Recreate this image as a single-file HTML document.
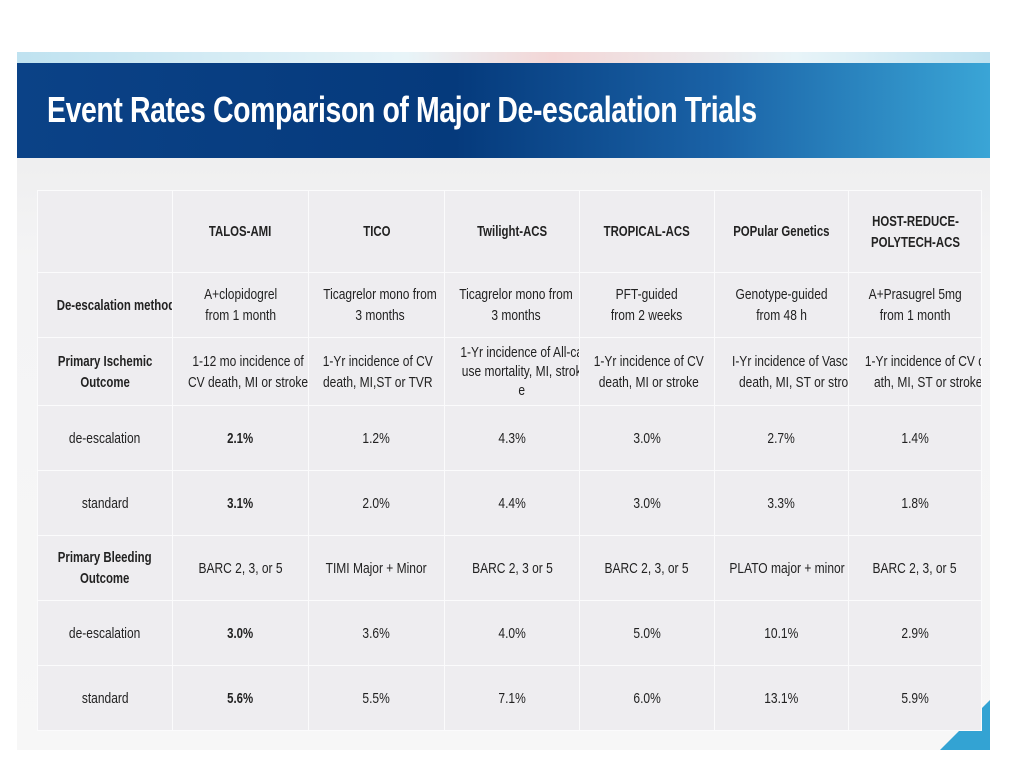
<!DOCTYPE html>
<html><head><meta charset="utf-8"><style>
html,body{margin:0;padding:0;width:1024px;height:768px;background:#fff;overflow:hidden;font-family:"Liberation Sans",sans-serif;}
#slide{position:absolute;left:17px;top:52px;width:973px;height:698px;background:linear-gradient(180deg,#e9e9ea 0%,#f4f4f5 30%,#f7f7f7 100%);}
#topline{position:absolute;left:17px;top:52px;width:973px;height:11px;background:linear-gradient(90deg,#bfe2f0,#e8f4f8 40%,#f3d6d6 55%,#e8f4f8 80%,#bfe2f0);}
#header{position:absolute;left:17px;top:63px;width:973px;height:95px;background:linear-gradient(90deg,#0b4287 0%,#053a7c 45%,#1a62a6 72%,#3aa5d6 100%);}
#title{position:absolute;left:30px;top:26px;color:#fff;font-size:36px;font-weight:bold;letter-spacing:-0.5px;white-space:nowrap;transform:scaleX(0.79);transform-origin:0 0;}
#corner{position:absolute;left:940px;top:700px;width:50px;height:50px;background:#33a3d3;clip-path:polygon(100% 0,100% 100%,0 100%);}
table{position:absolute;left:37px;top:190px;width:944px;border-collapse:collapse;table-layout:fixed;}
td{background:#eeedf0;border:1.5px solid #fbfbfc;text-align:center;vertical-align:middle;font-size:15px;color:#222;line-height:21px;padding:0;overflow:hidden;white-space:nowrap;}
td span{display:inline-block;transform:scaleX(0.8);transform-origin:50% 50%;}
td.b{font-weight:bold;}
td.b span{transform:scaleX(0.76);}
</style></head><body>
<div id="slide"></div>
<div id="topline"></div>
<div id="header"><div id="title">Event Rates Comparison of Major De-escalation Trials</div></div>
<div id="corner"></div>
<table>
<colgroup><col style="width:135px"><col style="width:136px"><col style="width:136px"><col style="width:135px"><col style="width:135px"><col style="width:134px"><col style="width:133px"></colgroup>
<tr style="height:82px"><td></td><td class="b"><span>TALOS-AMI</span></td><td class="b"><span>TICO</span></td><td class="b"><span>Twilight-ACS</span></td><td class="b"><span>TROPICAL-ACS</span></td><td class="b"><span>POPular Genetics</span></td><td class="b"><span>HOST-REDUCE-<br>POLYTECH-ACS</span></td></tr>
<tr style="height:65px"><td class="b"><span>De-escalation method</span></td><td><span>A+clopidogrel<br>from 1 month</span></td><td><span>Ticagrelor mono from<br>3 months</span></td><td><span>Ticagrelor mono from<br>3 months</span></td><td><span>PFT-guided<br>from 2 weeks</span></td><td><span>Genotype-guided<br>from 48 h</span></td><td><span>A+Prasugrel 5mg<br>from 1 month</span></td></tr>
<tr style="height:68px"><td class="b"><span>Primary Ischemic<br>Outcome</span></td><td><span>1-12 mo incidence of<br>CV death, MI or stroke</span></td><td><span>1-Yr incidence of CV<br>death, MI,ST or TVR</span></td><td style="line-height:19px"><span>1-Yr incidence of All-ca<br>use mortality, MI, strok<br>e</span></td><td><span>1-Yr incidence of CV<br>death, MI or stroke</span></td><td><span>I-Yr incidence of Vascular<br>death, MI, ST or stroke</span></td><td><span>1-Yr incidence of CV de<br>ath, MI, ST or stroke</span></td></tr>
<tr style="height:65px"><td><span>de-escalation</span></td><td class="b"><span>2.1%</span></td><td><span>1.2%</span></td><td><span>4.3%</span></td><td><span>3.0%</span></td><td><span>2.7%</span></td><td><span>1.4%</span></td></tr>
<tr style="height:65px"><td><span>standard</span></td><td class="b"><span>3.1%</span></td><td><span>2.0%</span></td><td><span>4.4%</span></td><td><span>3.0%</span></td><td><span>3.3%</span></td><td><span>1.8%</span></td></tr>
<tr style="height:65px"><td class="b"><span>Primary Bleeding<br>Outcome</span></td><td><span>BARC 2, 3, or 5</span></td><td><span>TIMI Major + Minor</span></td><td><span>BARC 2, 3 or 5</span></td><td><span>BARC 2, 3, or 5</span></td><td><span>PLATO major + minor</span></td><td><span>BARC 2, 3, or 5</span></td></tr>
<tr style="height:65px"><td><span>de-escalation</span></td><td class="b"><span>3.0%</span></td><td><span>3.6%</span></td><td><span>4.0%</span></td><td><span>5.0%</span></td><td><span>10.1%</span></td><td><span>2.9%</span></td></tr>
<tr style="height:65px"><td><span>standard</span></td><td class="b"><span>5.6%</span></td><td><span>5.5%</span></td><td><span>7.1%</span></td><td><span>6.0%</span></td><td><span>13.1%</span></td><td><span>5.9%</span></td></tr>
</table>
</body></html>
